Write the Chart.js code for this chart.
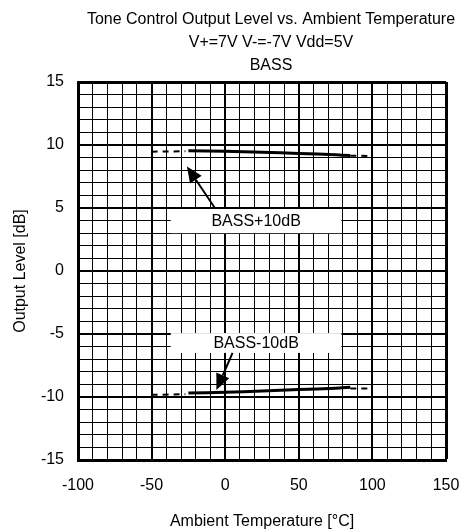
<!DOCTYPE html>
<html>
<head>
<meta charset="utf-8">
<script src="https://cdn.jsdelivr.net/npm/chart.js@4"></script>
<style>
    body { margin: 0; background: #fff; }
    #wrap { width: 467px; height: 532px; }
</style>
</head>
<body>
<div id="wrap"><canvas id="toneChart"></canvas></div>
<script>
const titleLines = ["Tone Control Output Level vs. Ambient Temperature", "V+=7V V-=-7V Vdd=5V", "BASS"];

// measured curves (solid) and the dashed extensions at both ends
const tempSolid = [-25, 0, 25, 50, 75, 85];
const bassPlus = [9.55, 9.5, 9.42, 9.33, 9.22, 9.17];
const bassMinus = [-9.68, -9.63, -9.53, -9.41, -9.3, -9.23];

const tempLeft = [-50, -27];
const bassPlusLeft = [9.47, 9.5];
const bassMinusLeft = [-9.83, -9.78];

const tempRight = [85, 100];
const bassPlusRight = [9.15, 9.13];
const bassMinusRight = [-9.32, -9.33];

const xTickLabels = [-100, -50, 0, 50, 100, 150];
const yTickLabels = [-15, -10, -5, 0, 5, 10, 15];

// callouts in data units: box [x1, x2, y1, y2], arrow from -> to
const callouts = [
    { text: "BASS+10dB", box: [-37, 79, 5, 3], from: [-7, 5], to: [-26, 8.3] },
    { text: "BASS-10dB", box: [-37, 79, -4.85, -6.5], from: [5, -6.5], to: [-6, -9.45] }
];

const FONT = "'Liberation Sans', Arial, sans-serif";

function pts(xs, ys) {
    return xs.map((x, i) => ({ x: x, y: ys[i] }));
}

function solid(data) {
    return { data: data, borderColor: "#000", borderWidth: 3, pointRadius: 0, tension: 0.3, fill: false };
}

function dashed(data) {
    return { data: data, borderColor: "#000", borderWidth: 2, borderDash: [6, 5], pointRadius: 0, fill: false };
}

const titlePlugin = {
    id: "titleLines",
    afterDraw(chart) {
        const c = chart.ctx;
        c.save();
        c.fillStyle = "#000";
        c.font = "16px " + FONT;
        c.textAlign = "center";
        c.textBaseline = "middle";
        titleLines.forEach((t, i) => c.fillText(t, 271, 20 + i * 23));
        c.restore();
    }
};

const calloutPlugin = {
    id: "callouts",
    afterDatasetsDraw(chart) {
        const c = chart.ctx;
        const xs = chart.scales.x, ys = chart.scales.y;
        c.save();
        callouts.forEach(co => {
            const x1 = xs.getPixelForValue(co.box[0]), x2 = xs.getPixelForValue(co.box[1]);
            const y1 = ys.getPixelForValue(co.box[2]), y2 = ys.getPixelForValue(co.box[3]);
            c.fillStyle = "#fff";
            c.fillRect(x1, y1 + 1, x2 - x1, y2 - y1 - 1);
            c.fillStyle = "#000";
            c.font = "16px " + FONT;
            c.textAlign = "center";
            c.textBaseline = "middle";
            c.fillText(co.text, (x1 + x2) / 2, (y1 + y2) / 2 + 1);

            const fx = xs.getPixelForValue(co.from[0]), fy = ys.getPixelForValue(co.from[1]);
            const tx = xs.getPixelForValue(co.to[0]), ty = ys.getPixelForValue(co.to[1]);
            const ang = Math.atan2(ty - fy, tx - fx);
            const len = 16, half = 7;
            const bx = tx - len * Math.cos(ang), by = ty - len * Math.sin(ang);
            c.strokeStyle = "#000";
            c.lineWidth = 2;
            c.beginPath();
            c.moveTo(fx, fy);
            c.lineTo(bx, by);
            c.stroke();
            c.beginPath();
            c.moveTo(tx, ty);
            c.lineTo(bx + half * Math.sin(ang), by - half * Math.cos(ang));
            c.lineTo(bx - half * Math.sin(ang), by + half * Math.cos(ang));
            c.closePath();
            c.fill();
        });
        c.restore();
    }
};

new Chart(document.getElementById("toneChart"), {
    type: "line",
    data: {
        datasets: [
            solid(pts(tempSolid, bassPlus)),
            solid(pts(tempSolid, bassMinus)),
            dashed(pts(tempLeft, bassPlusLeft)),
            dashed(pts(tempLeft, bassMinusLeft)),
            dashed(pts(tempRight, bassPlusRight)),
            dashed(pts(tempRight, bassMinusRight))
        ]
    },
    options: {
        responsive: true,
        maintainAspectRatio: false,
        animation: false,
        layout: { padding: { top: 82, right: 21, left: 0, bottom: 0 } },
        plugins: {
            legend: { display: false },
            tooltip: { enabled: false }
        },
        scales: {
            x: {
                type: "linear",
                min: -100,
                max: 150,
                afterFit(s) {
                    s.height = 72;
                    s.paddingLeft = 0;
                    s.paddingRight = 0;
                },
                ticks: {
                    stepSize: 10,
                    autoSkip: false,
                    maxRotation: 0,
                    padding: 16,
                    color: "#000",
                    font: { family: FONT, size: 16 },
                    callback: v => xTickLabels.includes(v) ? String(v) : ""
                },
                grid: {
                    color: "#000",
                    drawTicks: false,
                    lineWidth: ctx => ctx.tick.value === 150 ? 3 : (ctx.tick.value % 50 === 0 ? 2 : 1)
                },
                border: { display: true, color: "#000", width: 3 },
                title: {
                    display: true,
                    text: "Ambient Temperature [°C]",
                    color: "#000",
                    font: { family: FONT, size: 16 },
                    padding: { top: 0, bottom: 1 }
                }
            },
            y: {
                min: -15,
                max: 15,
                afterFit(s) {
                    s.width = 78;
                    s.paddingTop = 0;
                    s.paddingBottom = 0;
                },
                ticks: {
                    stepSize: 1,
                    autoSkip: false,
                    padding: 14,
                    color: "#000",
                    font: { family: FONT, size: 16 },
                    callback: v => yTickLabels.includes(v) ? String(v) : ""
                },
                grid: {
                    color: "#000",
                    drawTicks: false,
                    lineWidth: ctx => ctx.tick.value === 15 ? 3 : (ctx.tick.value % 5 === 0 ? 2 : 1)
                },
                border: { display: true, color: "#000", width: 3 },
                title: {
                    display: true,
                    text: "Output Level [dB]",
                    color: "#000",
                    font: { family: FONT, size: 16 },
                    padding: { top: 11, bottom: 0 }
                }
            }
        }
    },
    plugins: [titlePlugin, calloutPlugin]
});
</script>
</body>
</html>
